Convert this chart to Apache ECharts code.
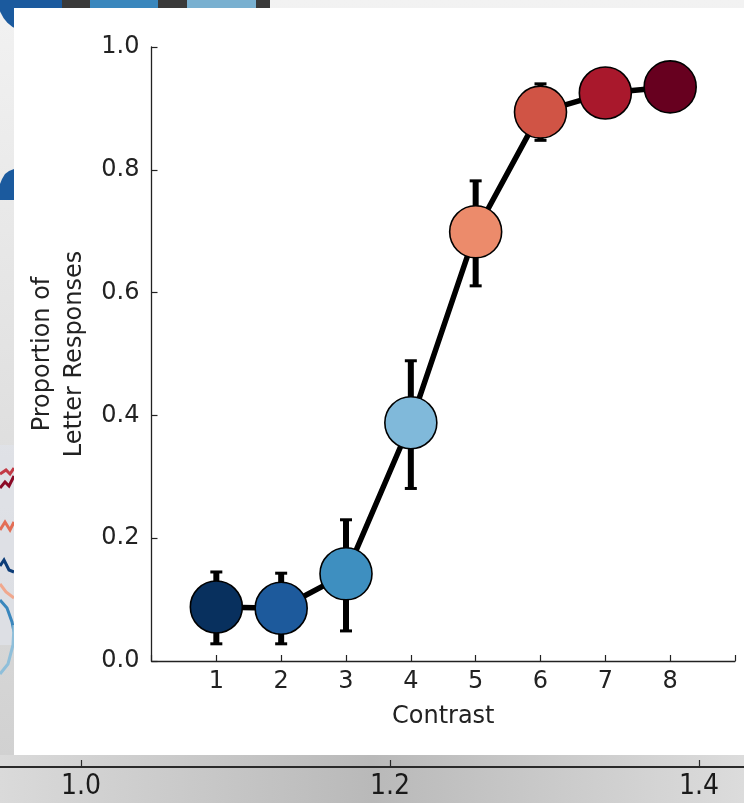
<!DOCTYPE html>
<html>
<head>
<meta charset="utf-8">
<script src="https://cdn.jsdelivr.net/npm/echarts@6/dist/echarts.min.js"></script>
<style>
html,body{margin:0;padding:0;background:#fff;}
#chart{width:744px;height:803px;}
</style>
</head>
<body>
<div id="chart"></div>
<script>
// ---- data ----
const contrastLevels = [1, 2, 3, 4, 5, 6, 7, 8];
const proportionLetter = [0.088, 0.086, 0.142, 0.388, 0.699, 0.894, 0.925, 0.935];
const errorLow  = [0.028, 0.028, 0.049, 0.281, 0.611, 0.848, 0.905, 0.920];
const errorHigh = [0.145, 0.143, 0.230, 0.489, 0.782, 0.940, 0.945, 0.950];
const pointColors = ['#08305e', '#1d5a9c', '#3e8fc0', '#80b9da', '#ec8b6b', '#d05445', '#a9182c', '#67001f'];
const yTicks = [0.0, 0.2, 0.4, 0.6, 0.8, 1.0];
const xTickLabels = ['1', '2', '3', '4', '5', '6', '7', '8'];
const bgAxisTicks = [1.0, 1.2, 1.4];

const FONT = 'DejaVu Sans';

const lineData = contrastLevels.map((c, i) => [c, proportionLetter[i]]);
const errData = contrastLevels.map((c, i) => [c, errorLow[i], errorHigh[i]]);

const chart = echarts.init(document.getElementById('chart'), null, {renderer: 'canvas'});

// decorative background (a screenshot-like frame behind the figure)
const bgGraphics = [
  {type: 'rect', z: -20, shape: {x: 0, y: 0, width: 744, height: 803},
   style: {fill: new echarts.graphic.LinearGradient(0, 0, 0, 1, [
     {offset: 0, color: '#f2f2f2'}, {offset: 1, color: '#cfcfcf'}])}},
  {type: 'rect', z: -19, shape: {x: 0, y: 755, width: 744, height: 48},
   style: {fill: new echarts.graphic.LinearGradient(0, 0, 1, 0, [
     {offset: 0, color: '#dadada'}, {offset: 0.5, color: '#b9b9b9'}, {offset: 1, color: '#dcdcdc'}])}},
  {type: 'rect', z: -18, shape: {x: 0, y: 0, width: 62, height: 8}, style: {fill: '#1b5a9e'}},
  {type: 'circle', z: -18, shape: {cx: 30, cy: 0, r: 32}, style: {fill: '#1b5a9e'}},
  {type: 'rect', z: -18, shape: {x: 62, y: 0, width: 208, height: 8}, style: {fill: '#3a3a3a'}},
  {type: 'rect', z: -17, shape: {x: 90, y: 0, width: 68, height: 8}, style: {fill: '#3a87bd'}},
  {type: 'rect', z: -17, shape: {x: 187, y: 0, width: 69, height: 8}, style: {fill: '#79b0d0'}},
  {type: 'polygon', z: -18, shape: {points: [[14, 169], [9, 171], [5, 174], [2, 179], [0, 184], [0, 200], [14, 200]]}, style: {fill: '#1b5a9e'}},
  {type: 'rect', z: -16, shape: {x: 0, y: 445, width: 14, height: 200}, style: {fill: '#dfe3ea', opacity: 0.7}},
  {type: 'polyline', z: -15, shape: {points: [[0, 488], [5, 482], [9, 486], [14, 476]]}, style: {stroke: '#8b0a26', lineWidth: 3, fill: null}},
  {type: 'polyline', z: -15, shape: {points: [[0, 474], [6, 470], [10, 474], [14, 468]]}, style: {stroke: '#c23a45', lineWidth: 3, fill: null}},
  {type: 'polyline', z: -15, shape: {points: [[0, 530], [5, 522], [10, 530], [14, 522]]}, style: {stroke: '#e36e55', lineWidth: 3, fill: null}},
  {type: 'polyline', z: -15, shape: {points: [[0, 566], [4, 560], [9, 570], [14, 572]]}, style: {stroke: '#0d3d78', lineWidth: 3, fill: null}},
  {type: 'polyline', z: -15, shape: {points: [[0, 584], [6, 592], [14, 598]]}, style: {stroke: '#f0a88e', lineWidth: 3, fill: null}},
  {type: 'polyline', z: -15, shape: {points: [[0, 600], [7, 608], [12, 622], [14, 632]]}, style: {stroke: '#3a87bd', lineWidth: 3, fill: null}},
  {type: 'polyline', z: -15, shape: {points: [[0, 674], [8, 664], [13, 645], [14, 625]]}, style: {stroke: '#8fbfda', lineWidth: 3, fill: null}},
  {type: 'rect', z: -10, shape: {x: 14, y: 8, width: 730, height: 747}, style: {fill: '#ffffff'}}
];

const option = {
  animation: false,
  backgroundColor: 'transparent',
  textStyle: {fontFamily: FONT},
  graphic: bgGraphics,
  grid: [
    {left: 151.5, right: 9, top: 47, bottom: 142, containLabel: false, outerBoundsMode: 'none'},
    {left: 0, right: 0, top: 757, height: 10, containLabel: false, outerBoundsMode: 'none'}
  ],
  xAxis: [
    {
      type: 'value', gridIndex: 0, min: 0, max: 9, interval: 1,
      axisLine: {show: true, onZero: false, lineStyle: {color: '#222', width: 1.3}},
      axisTick: {show: true, inside: true, length: 6, lineStyle: {color: '#222', width: 1.2}},
      axisLabel: {
        color: '#222', fontSize: 24, fontFamily: FONT, margin: 9,
        formatter: v => (v >= 1 && v <= 8) ? xTickLabels[v - 1] : ''
      },
      splitLine: {show: false},
      name: 'Contrast', nameLocation: 'middle', nameGap: 44,
      nameTextStyle: {color: '#222', fontSize: 24, fontFamily: FONT}
    },
    {
      type: 'value', gridIndex: 1, min: 0.9476, max: 1.4291,
      axisLine: {show: true, lineStyle: {color: '#2a2a2a', width: 2}},
      axisTick: {show: true, inside: true, length: 7, customValues: bgAxisTicks, lineStyle: {color: '#2a2a2a', width: 1.2}},
      axisLabel: {
        show: true, customValues: bgAxisTicks, color: '#1a1a1a', fontSize: 28,
        fontFamily: 'DejaVu Sans Condensed, DejaVu Sans', margin: 6,
        formatter: v => v.toFixed(1)
      },
      splitLine: {show: false}
    }
  ],
  yAxis: [
    {
      type: 'value', gridIndex: 0, min: 0, max: 1, interval: 0.2,
      axisLine: {show: true, onZero: false, lineStyle: {color: '#222', width: 1.3}},
      axisTick: {show: true, inside: true, length: 6, lineStyle: {color: '#222', width: 1.2}},
      axisLabel: {
        color: '#222', fontSize: 24, fontFamily: FONT, margin: 12,
        formatter: v => v.toFixed(1)
      },
      splitLine: {show: false},
      name: 'Proportion of\nLetter Responses', nameLocation: 'middle', nameGap: 57,
      nameRotate: 90,
      nameTextStyle: {color: '#222', fontSize: 24, fontFamily: FONT, lineHeight: 32, align: 'center'}
    },
    {
      type: 'value', gridIndex: 1, show: false, min: 0, max: 1
    }
  ],
  series: [
    {
      type: 'line', xAxisIndex: 0, yAxisIndex: 0, data: lineData,
      symbol: 'none', z: 2,
      lineStyle: {color: '#000', width: 5.5}
    },
    {
      type: 'custom', xAxisIndex: 0, yAxisIndex: 0, data: errData, z: 3,
      encode: {x: 0, y: [1, 2]},
      renderItem: function (params, api) {
        const x = api.value(0);
        const pLo = api.coord([x, api.value(1)]);
        const pHi = api.coord([x, api.value(2)]);
        const cw = 6;
        return {
          type: 'group',
          children: [
            {type: 'line', shape: {x1: pHi[0], y1: pHi[1], x2: pLo[0], y2: pLo[1]}, style: {stroke: '#000', lineWidth: 6}},
            {type: 'line', shape: {x1: pHi[0] - cw, y1: pHi[1], x2: pHi[0] + cw, y2: pHi[1]}, style: {stroke: '#000', lineWidth: 3}},
            {type: 'line', shape: {x1: pLo[0] - cw, y1: pLo[1], x2: pLo[0] + cw, y2: pLo[1]}, style: {stroke: '#000', lineWidth: 3}}
          ]
        };
      }
    },
    {
      type: 'scatter', xAxisIndex: 0, yAxisIndex: 0, data: lineData, z: 5,
      symbol: 'circle', symbolSize: 52,
      itemStyle: {
        color: p => pointColors[p.dataIndex],
        borderColor: '#000', borderWidth: 1.6, opacity: 1
      },
      emphasis: {disabled: true}
    }
  ]
};

chart.setOption(option);
</script>
</body>
</html>
